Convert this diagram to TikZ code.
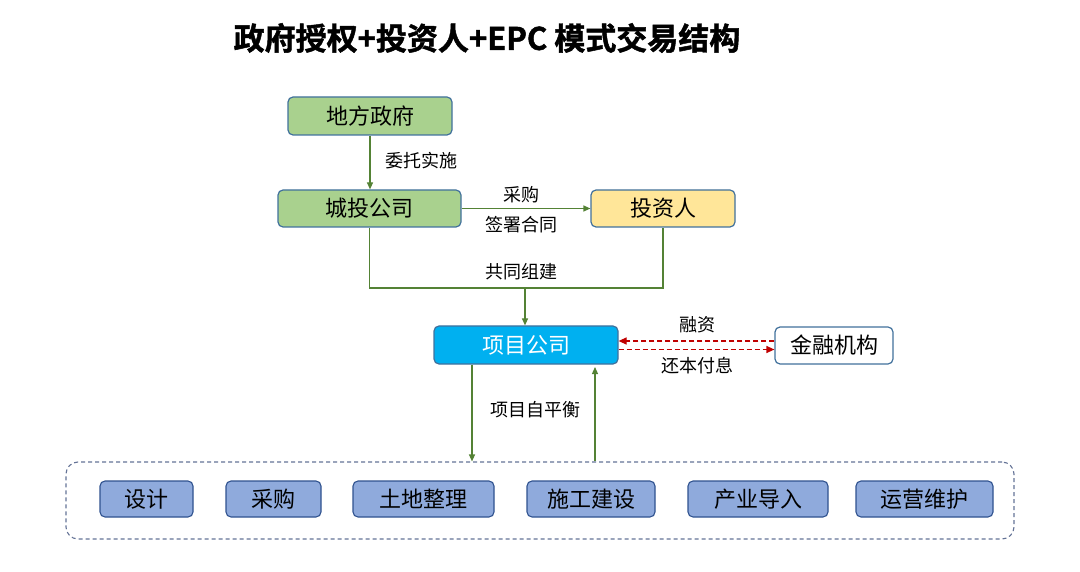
\documentclass[tikz,border=0pt]{standalone}
\usepackage{fontspec}
\setmainfont{Noto Sans CJK SC}
\newfontfamily\cjkb[FakeBold=1.5]{Noto Sans CJK SC Bold}
\usetikzlibrary{arrows.meta}
\definecolor{gfill}{RGB}{169,209,142}
\definecolor{yfill}{RGB}{255,230,153}
\definecolor{bfill}{RGB}{0,176,240}
\definecolor{pfill}{RGB}{143,170,220}
\definecolor{edge}{RGB}{65,113,156}
\definecolor{dedge}{RGB}{47,82,143}
\definecolor{gline}{RGB}{84,130,53}
\definecolor{rline}{RGB}{192,0,0}
\definecolor{cont}{RGB}{100,115,150}
\tikzset{
  box/.style={draw=edge, line width=1.2pt, rounded corners=5pt, inner sep=0pt,
    font=\fontsize{22}{25}\selectfont, anchor=center},
  subbox/.style={draw=dedge, line width=1.1pt, fill=pfill, rounded corners=5pt,
    minimum height=36pt, font=\fontsize{22}{25}\selectfont, inner sep=0pt},
  lbl/.style={font=\fontsize{18}{21}\selectfont, inner sep=0pt},
  garrow/.style={draw=gline, line width=1.2pt, -{Triangle[length=7pt,width=6pt]}},
  gline/.style={draw=gline, line width=1.2pt},
  rarrow/.style={draw=rline, line width=1.2pt, dash pattern=on 5pt off 3pt, -{Triangle[length=8pt,width=7pt]}}
}
\begin{document}
\begin{tikzpicture}[x=1pt,y=-1pt]
\useasboundingbox (0,0) rectangle (1080,572);
\node[font=\cjkb\fontsize{31}{34}\selectfont] (title) at (487,38) {政府授权+投资人+EPC 模式交易结构};

\node[box, fill=gfill, minimum width=164pt, minimum height=38pt] (gov) at (370,116) {地方政府};
\node[box, fill=gfill, minimum width=183pt, minimum height=37pt] (ct) at (369.5,208.5) {城投公司};
\node[box, fill=yfill, minimum width=144pt, minimum height=37pt] (inv) at (663,208.5) {投资人};
\node[box, fill=bfill, text=white, minimum width=184pt, minimum height=38pt] (pc) at (526,345) {项目公司};
\node[box, fill=white, minimum width=118pt, minimum height=37pt] (fin) at (834,345.5) {金融机构};

\draw[garrow] (gov.south) -- (gov.south |- ct.north);
\node[lbl] (l1) at (421,161) {委托实施};

\draw[garrow] (ct.east) -- (inv.west);
\node[lbl] (l2) at (521,195) {采购};
\node[lbl] (l3) at (521,225) {签署合同};

\coordinate (j) at (525,288);
\draw[gline] (ct.south) -- (ct.south |- j) -- (inv.south |- j) -- (inv.south);
\draw[garrow] (j) -- (j |- pc.north);
\node[lbl] (l4) at (521,272) {共同组建};

\coordinate (ru) at (700,341);
\coordinate (rd) at (700,349.5);
\draw[rarrow] (fin.west |- ru) -- (pc.east |- ru);
\draw[rarrow] (pc.east |- rd) -- (fin.west |- rd);
\node[lbl] (l5) at (697,325) {融资};
\node[lbl] (l6) at (697,366) {还本付息};

\node[draw=cont, line width=1.1pt, dash pattern=on 4pt off 3pt, rounded corners=12pt,
  minimum width=948pt, minimum height=77pt, inner sep=0pt] (ct2) at (540,500.5) {};

\coordinate (dx) at (472,400);
\coordinate (ux) at (595,400);
\coordinate (utop) at (595,367);
\draw[garrow] (dx |- pc.south) -- (dx |- ct2.north);
\draw[garrow] (ux |- ct2.north) -- (utop);
\node[lbl] (l7) at (535,410) {项目自平衡};

\node[subbox, minimum width=93pt] (s1) at (146.5,499) {设计};
\node[subbox, minimum width=95pt] (s2) at (273.5,499) {采购};
\node[subbox, minimum width=141pt] (s3) at (423.5,499) {土地整理};
\node[subbox, minimum width=128pt] (s4) at (591,499) {施工建设};
\node[subbox, minimum width=140pt] (s5) at (758,499) {产业导入};
\node[subbox, minimum width=137pt] (s6) at (924.5,499) {运营维护};
\end{tikzpicture}
\end{document}
